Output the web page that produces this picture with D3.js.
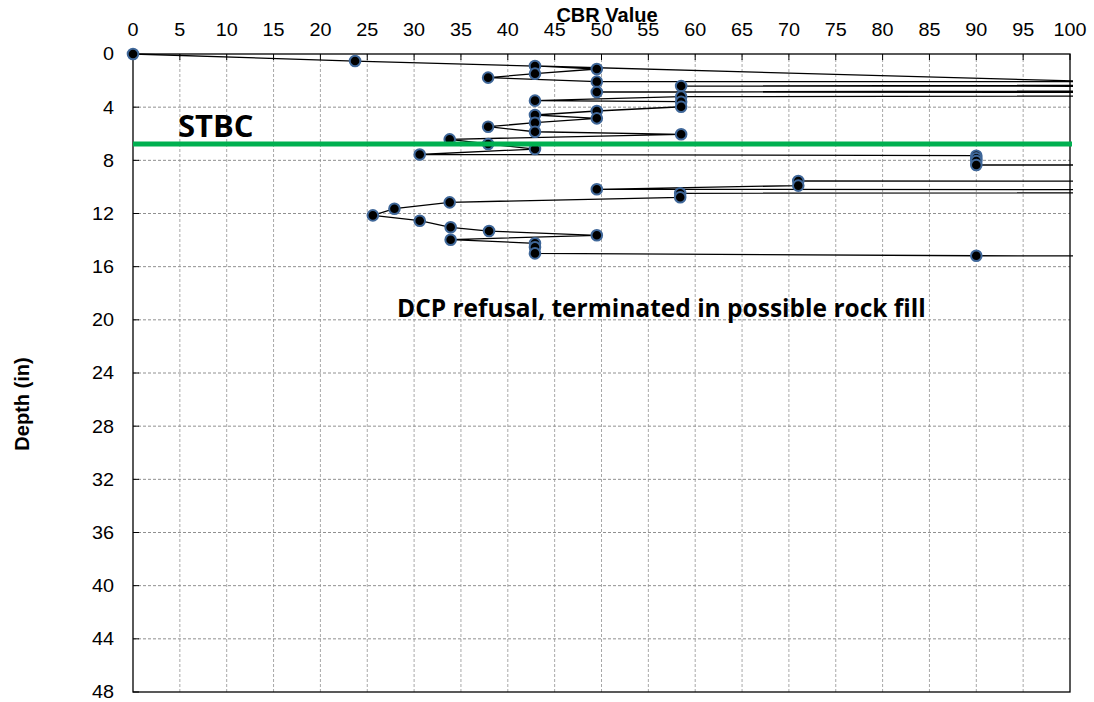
<!DOCTYPE html>
<html>
<head>
<meta charset="utf-8">
<script src="https://cdn.jsdelivr.net/npm/d3@7"></script>
<style>
  html, body { margin: 0; padding: 0; background: #fff; }
  svg { display: block; }
</style>
</head>
<body>
<svg id="chart" width="1094" height="702"></svg>
<script>
// ---- data (CBR value, depth in inches), in test order; values > 100 lie beyond the axis
const cbrValues = [0, 23.7, 150, 42.9, 49.5, 42.9, 37.9, 49.5, 300, 58.5, 300, 49.5, 300, 58.5,
  42.9, 58.5, 58.5, 49.5, 42.9, 49.5, 42.9, 37.9, 42.9, 58.5, 33.8, 37.9, 42.9, 30.6,
  90, 90, 90, 90, 300, 300, 71, 71, 49.5, 300, 58.4, 58.4, 33.8, 27.9, 25.6, 30.6,
  33.9, 38, 49.5, 33.9, 42.9, 42.9, 42.9, 90, 300];
const depthValues = [0, 0.53, 3.0, 0.9, 1.13, 1.48, 1.78, 2.08, 2.1, 2.41, 2.5, 2.86, 2.95, 3.21,
  3.51, 3.59, 3.97, 4.29, 4.59, 4.84, 5.17, 5.47, 5.85, 6.04, 6.42, 6.77, 7.15, 7.56,
  7.65, 7.85, 8.05, 8.35, 8.4, 9.7, 9.55, 9.9, 10.18, 10.3, 10.48, 10.78, 11.16, 11.64, 12.14, 12.54,
  13.04, 13.32, 13.64, 13.97, 14.24, 14.54, 15.0, 15.18, 15.22];
const stbcDepth = [6.77];
const xTickValues = [0, 5, 10, 15, 20, 25, 30, 35, 40, 45, 50, 55, 60, 65, 70, 75, 80, 85, 90, 95, 100];
const yTickValues = [0, 4, 8, 12, 16, 20, 24, 28, 32, 36, 40, 44, 48];
const xTitle = "CBR Value";
const yTitle = "Depth (in)";
const stbcLabel = "STBC";
const noteLabel = "DCP refusal, terminated in possible rock fill";

// ---- layout
const L = 133, R = 1070, T = 54, B = 692;
const x = d3.scaleLinear().domain([0, 100]).range([L, R]);
const y = d3.scaleLinear().domain([0, 48]).range([T, B]);
const svg = d3.select("#chart");
const font = "'Liberation Sans', Arial, sans-serif";
const sx = 1.1;

// grid
svg.append("g").selectAll("line").data(xTickValues.filter(v => v > 0 && v < 100)).join("line")
  .attr("x1", d => x(d)).attr("x2", d => x(d)).attr("y1", T).attr("y2", B)
  .attr("stroke", "#a8a8a8").attr("stroke-width", 1).attr("stroke-dasharray", "3,2");
svg.append("g").selectAll("line").data(yTickValues.filter(v => v > 0 && v < 48)).join("line")
  .attr("x1", L).attr("x2", R).attr("y1", d => y(d)).attr("y2", d => y(d))
  .attr("stroke", "#909090").attr("stroke-width", 1).attr("stroke-dasharray", "3,2");

// ticks (inward)
svg.append("g").selectAll("line").data(xTickValues).join("line")
  .attr("x1", d => x(d)).attr("x2", d => x(d)).attr("y1", T).attr("y2", T + 6)
  .attr("stroke", "#000").attr("stroke-width", 1);
svg.append("g").selectAll("line").data(yTickValues).join("line")
  .attr("x1", L).attr("x2", L + 6).attr("y1", d => y(d)).attr("y2", d => y(d))
  .attr("stroke", "#000").attr("stroke-width", 1);

// frame
svg.append("rect").attr("x", L).attr("y", T).attr("width", R - L).attr("height", B - T)
  .attr("fill", "none").attr("stroke", "#000").attr("stroke-width", 1.3);

// tick labels
svg.append("g").selectAll("text").data(xTickValues).join("text")
  .attr("transform", d => `translate(${x(d)},36) scale(${sx},1)`)
  .attr("text-anchor", "middle").attr("font-family", font).attr("font-size", 18)
  .attr("fill", "#000").text(d => d);
svg.append("g").selectAll("text").data(yTickValues).join("text")
  .attr("transform", d => `translate(114,${y(d)}) scale(${sx},1)`)
  .attr("dy", "0.36em")
  .attr("text-anchor", "end").attr("font-family", font).attr("font-size", 18)
  .attr("fill", "#000").text(d => d);

// axis titles
svg.append("text").attr("x", 607).attr("y", 22).attr("text-anchor", "middle")
  .attr("font-family", font).attr("font-weight", "bold").attr("font-size", 20)
  .attr("fill", "#000").text(xTitle);
svg.append("text").attr("transform", "translate(29,404) rotate(-90)").attr("text-anchor", "middle")
  .attr("font-family", font).attr("font-weight", "bold").attr("font-size", 20)
  .attr("fill", "#000").text(yTitle);

// series line + markers
svg.append("clipPath").attr("id", "clip").append("rect")
  .attr("x", L - 8).attr("y", T - 8).attr("width", R - L + 11).attr("height", B - T + 16);
const pts = cbrValues.map((c, i) => ({ c, d: depthValues[i] }));
const line = d3.line().x(p => x(p.c)).y(p => y(p.d));
svg.append("path").datum(pts).attr("clip-path", "url(#clip)")
  .attr("d", line).attr("fill", "none").attr("stroke", "#000").attr("stroke-width", 1.3);
svg.append("g").selectAll("circle").data(pts.filter(p => p.c <= 100)).join("circle")
  .attr("cx", p => x(p.c)).attr("cy", p => y(p.d)).attr("r", 5.3)
  .attr("fill", "#000").attr("stroke", "#3f6799").attr("stroke-width", 2);

// STBC line
svg.append("g").selectAll("line").data(stbcDepth).join("line")
  .attr("x1", L).attr("x2", R + 2).attr("y1", d => y(d)).attr("y2", d => y(d))
  .attr("stroke", "#00b050").attr("stroke-width", 5);

// annotations
svg.append("text").attr("x", 178).attr("y", 137).attr("font-family", "'Open Sans', sans-serif")
  .attr("font-weight", "bold").attr("font-size", 31).attr("fill", "#000").text(stbcLabel);
svg.append("text").attr("x", 397).attr("y", 317).attr("font-family", "'Open Sans', sans-serif")
  .attr("font-weight", "bold").attr("font-size", 24.5).attr("fill", "#000").text(noteLabel);
</script>
</body>
</html>
